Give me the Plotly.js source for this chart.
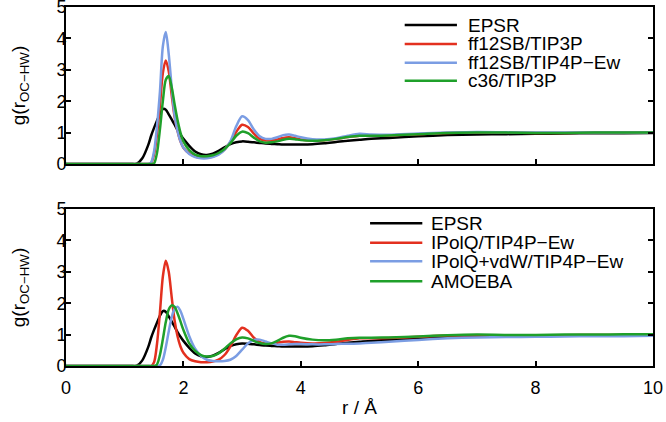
<!DOCTYPE html>
<html>
<head>
<meta charset="utf-8">
<script src="https://cdn.plot.ly/plotly-3.0.1.min.js"></script>
<style>html,body{margin:0;padding:0;background:#fff;}#chart{width:666px;height:422px;}</style>
</head>
<body>
<div id="chart"></div>
<script>
// r grid (Å)
const r = [0, 1.0, 1.1, 1.2, 1.3, 1.4,
  1.45, 1.5, 1.55, 1.6, 1.65, 1.7, 1.75, 1.8, 1.85, 1.9, 1.95, 2.0,
  2.1, 2.2, 2.3, 2.4, 2.5, 2.6, 2.7, 2.8, 2.9, 3.0, 3.1, 3.2, 3.3, 3.4, 3.5, 3.6, 3.7, 3.8, 3.9, 4.0,
  4.2, 4.4, 4.6, 4.8, 5.0, 5.2,
  5.5, 6.0, 6.5, 7.0, 7.5, 8.0, 8.5, 9.0, 9.5, 10.0];

// EPSR (both panels)
const gEPSR = [0, 0, 0, 0, 0.18, 0.6,
  0.9, 1.15, 1.38, 1.6, 1.75, 1.73, 1.58, 1.42, 1.25, 1.08, 0.93, 0.8,
  0.58, 0.4, 0.31, 0.29, 0.33, 0.42, 0.53, 0.63, 0.69, 0.72, 0.71, 0.69, 0.67, 0.65, 0.64, 0.63, 0.62, 0.62, 0.62, 0.62,
  0.63, 0.66, 0.70, 0.74, 0.77, 0.80,
  0.83, 0.88, 0.92, 0.94, 0.95, 0.96, 0.97, 0.98, 0.98, 0.99];

// top panel
const gFF12TIP3P = [0, 0, 0, 0, 0, 0,
  0.03, 0.3, 0.95, 1.85, 2.9, 3.3, 2.95, 2.2, 1.5, 1.05, 0.72, 0.52,
  0.34, 0.24, 0.2, 0.2, 0.24, 0.32, 0.46, 0.7, 1.02, 1.25, 1.18, 0.97, 0.8, 0.75, 0.75, 0.78, 0.83, 0.85, 0.82, 0.78,
  0.75, 0.76, 0.8, 0.86, 0.9, 0.9,
  0.91, 0.95, 0.99, 1.0, 1.0, 0.99, 0.99, 1.0, 1.0, 1.0];
const gFF12TIP4PEw = [0, 0, 0, 0, 0, 0,
  0.05, 0.4, 1.2, 2.3, 3.75, 4.2, 3.5, 2.45, 1.55, 1.05, 0.72, 0.52,
  0.32, 0.22, 0.18, 0.18, 0.22, 0.3, 0.45, 0.72, 1.2, 1.52, 1.4, 1.1, 0.88, 0.8, 0.8, 0.85, 0.92, 0.94, 0.9, 0.85,
  0.79, 0.78, 0.82, 0.9, 0.96, 0.94,
  0.93, 0.97, 1.0, 1.02, 1.01, 1.0, 1.0, 1.0, 1.0, 1.0];
const gC36TIP3P = [0, 0, 0, 0, 0, 0,
  0, 0.02, 0.35, 1.1, 2.0, 2.68, 2.8, 2.45, 1.9, 1.4, 1.0, 0.72,
  0.44, 0.3, 0.25, 0.25, 0.28, 0.35, 0.48, 0.66, 0.9, 1.03, 0.98, 0.84, 0.72, 0.68, 0.69, 0.72, 0.77, 0.8, 0.79, 0.76,
  0.74, 0.76, 0.8, 0.86, 0.9, 0.9,
  0.91, 0.95, 0.99, 1.0, 1.0, 0.99, 0.99, 1.0, 1.0, 1.0];

// bottom panel
const gIPolQ = [0, 0, 0, 0, 0, 0,
  0, 0.12, 0.7, 1.7, 2.85, 3.35, 3.0, 2.2, 1.45, 0.95, 0.62, 0.42,
  0.22, 0.15, 0.12, 0.12, 0.14, 0.2, 0.35, 0.62, 0.98, 1.22, 1.12, 0.9, 0.76, 0.72, 0.72, 0.74, 0.77, 0.78, 0.76, 0.74,
  0.72, 0.73, 0.77, 0.83, 0.88, 0.88,
  0.89, 0.93, 0.97, 0.98, 0.98, 0.98, 0.98, 0.99, 0.99, 0.99];
const gIPolQvdW = [0, 0, 0, 0, 0, 0,
  0, 0, 0, 0.02, 0.2, 0.6, 1.1, 1.55, 1.82, 1.89, 1.75, 1.5,
  0.95, 0.55, 0.32, 0.2, 0.16, 0.15, 0.16, 0.2, 0.32, 0.52, 0.72, 0.83, 0.84, 0.78, 0.72, 0.68, 0.68, 0.69, 0.7, 0.7,
  0.69, 0.69, 0.7, 0.71, 0.72, 0.74,
  0.77, 0.83, 0.88, 0.91, 0.92, 0.93, 0.94, 0.95, 0.95, 0.96];
const gAMOEBA = [0, 0, 0, 0, 0, 0,
  0, 0, 0.05, 0.35, 0.85, 1.4, 1.8, 1.93, 1.88, 1.68, 1.42, 1.15,
  0.72, 0.48, 0.35, 0.3, 0.32, 0.4, 0.55, 0.72, 0.85, 0.91, 0.88, 0.8, 0.73, 0.7, 0.72, 0.8, 0.9, 0.96, 0.95, 0.9,
  0.84, 0.82, 0.84, 0.88, 0.9, 0.9,
  0.91, 0.94, 0.98, 1.0, 0.99, 0.99, 1.0, 1.0, 1.01, 1.01];

const topNames = ['EPSR', 'ff12SB/TIP3P', 'ff12SB/TIP4P\u2212Ew', 'c36/TIP3P'];
const botNames = ['EPSR', 'IPolQ/TIP4P\u2212Ew', 'IPolQ+vdW/TIP4P\u2212Ew', 'AMOEBA'];
const colors = ['#000000', '#e3301f', '#7b9de3', '#1fa02a'];
const topSeries = [gEPSR, gFF12TIP3P, gFF12TIP4PEw, gC36TIP3P];
const botSeries = [gEPSR, gIPolQ, gIPolQvdW, gAMOEBA];
const yTicks = [0, 1, 2, 3, 4, 5];
const xTicks = [0, 2, 4, 6, 8, 10];

const FONT = '"Liberation Sans", Arial, Helvetica, sans-serif';
const traces = [];
topSeries.forEach((g, i) => traces.push({
  x: r, y: g, name: topNames[i], type: 'scatter', mode: 'lines',
  line: {color: colors[i], width: 2.5, shape: 'spline', smoothing: 0.8},
  xaxis: 'x', yaxis: 'y', showlegend: false, hoverinfo: 'skip'
}));
botSeries.forEach((g, i) => traces.push({
  x: r, y: g, name: botNames[i], type: 'scatter', mode: 'lines',
  line: {color: colors[i], width: 2.5, shape: 'spline', smoothing: 0.8},
  xaxis: 'x2', yaxis: 'y2', showlegend: false, hoverinfo: 'skip'
}));

// legends (text + line samples), positioned in axis-domain coordinates
const annotations = [];
const shapes = [];
const topRows = [0.885, 0.765, 0.645, 0.53];
const botRows = [0.91, 0.785, 0.668, 0.54];
topNames.forEach((n, i) => {
  shapes.push({type: 'line', xref: 'x domain', yref: 'y domain', x0: 0.577, x1: 0.666, y0: topRows[i], y1: topRows[i], line: {color: colors[i], width: 2.5}});
  annotations.push({xref: 'x domain', yref: 'y domain', x: 0.682, y: topRows[i], xanchor: 'left', yanchor: 'middle', text: n, showarrow: false, font: {family: FONT, size: 19, color: '#000'}});
});
botNames.forEach((n, i) => {
  shapes.push({type: 'line', xref: 'x2 domain', yref: 'y2 domain', x0: 0.518, x1: 0.607, y0: botRows[i], y1: botRows[i], line: {color: colors[i], width: 2.5}});
  annotations.push({xref: 'x2 domain', yref: 'y2 domain', x: 0.618, y: botRows[i], xanchor: 'left', yanchor: 'middle', text: n, showarrow: false, font: {family: FONT, size: 19, color: '#000'}});
});

const axBase = {
  showline: true, linecolor: '#000', linewidth: 2, mirror: 'ticks',
  ticks: 'inside', ticklen: 5, tickwidth: 2, tickcolor: '#000',
  showgrid: false, zeroline: false, fixedrange: true, ticklabeloverflow: 'allow',
  tickfont: {family: FONT, size: 18, color: '#000'}
};
const ytitle = {text: 'g(r<sub>OC\u2212HW</sub>)', font: {family: FONT, size: 19, color: '#000'}, standoff: 26};

const layout = {
  width: 666, height: 422,
  margin: {l: 66, r: 13, t: 7, b: 56},
  paper_bgcolor: '#fff', plot_bgcolor: '#fff',
  font: {family: FONT, color: '#000'},
  showlegend: false,
  xaxis: Object.assign({}, axBase, {domain: [0, 1], anchor: 'y', range: [0, 10], tickmode: 'array', tickvals: xTicks, mirror: true, showticklabels: false}),
  yaxis: Object.assign({}, axBase, {domain: [0.5627, 1], anchor: 'x', range: [0, 5], tickmode: 'array', tickvals: yTicks, ticklabelstandoff: -6, title: ytitle}),
  xaxis2: Object.assign({}, axBase, {domain: [0, 1], anchor: 'y2', range: [0, 10], tickmode: 'array', tickvals: xTicks, mirror: true, ticklabelstandoff: 4,
    title: {text: 'r / \u00c5', font: {family: FONT, size: 19, color: '#000'}, standoff: 4}}),
  yaxis2: Object.assign({}, axBase, {domain: [0, 0.4373], anchor: 'x2', range: [0, 5], tickmode: 'array', tickvals: yTicks, ticklabelstandoff: -6, title: ytitle}),
  annotations: annotations,
  shapes: shapes
};

Plotly.newPlot('chart', traces, layout, {staticPlot: true, displayModeBar: false});
</script>
</body>
</html>
